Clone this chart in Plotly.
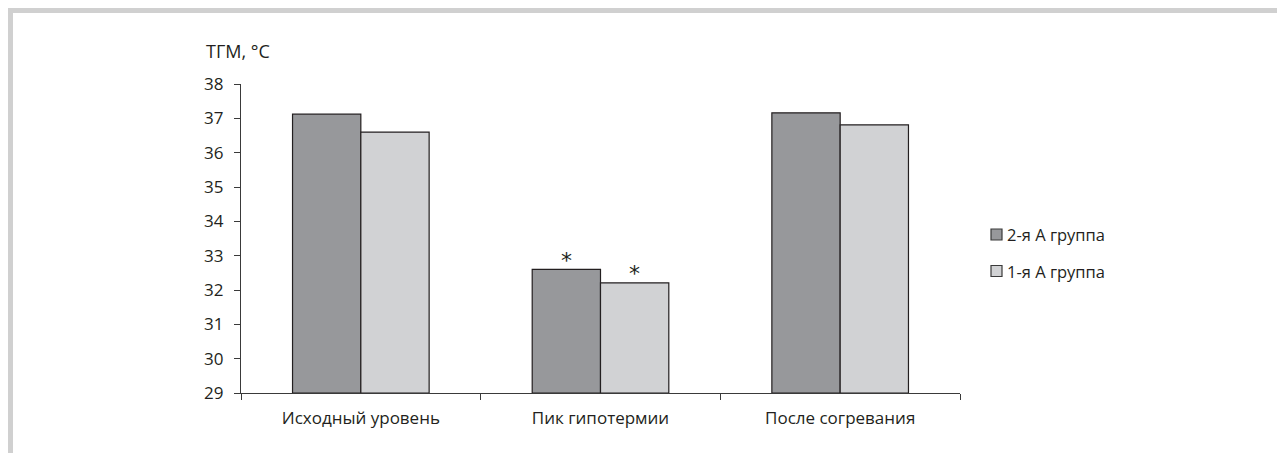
import plotly.graph_objects as go

categories = ["Исходный уровень", "Пик гипотермии", "После согревания"]
group2_values = [37.12, 32.60, 37.16]
group1_values = [36.60, 32.21, 36.81]
series_names = ["2-я А группа", "1-я А группа"]
series_colors = ["#97989b", "#d1d2d4"]
significance2 = ["", "*", ""]
significance1 = ["", "*", ""]

OFF = 8  # browser body margin
W, H = 1285 - OFF, 453 - OFF
PL, PR, PT, PB = 241, 960, 84, 393
ML, MR, MT, MB = PL - OFF, W - (PR - OFF), PT - OFF, H - (PB - OFF)
pw, ph = PR - PL, PB - PT
BARGAP = 0.43

def px_x(p):
    return (p - PL) / pw

def px_y(p):
    return (PB - p) / ph

FONT = "Open Sans"
TXT = "#231f20"
AX = "#3a3a3a"

fig = go.Figure()
for vals, name, col in [(group2_values, series_names[0], series_colors[0]),
                        (group1_values, series_names[1], series_colors[1])]:
    fig.add_trace(go.Bar(
        x=categories, y=[v - 29 for v in vals], base=29, name=name,
        marker=dict(color=col, line=dict(color="#231f20", width=1.2)),
        showlegend=False,
    ))

annotations = [dict(text="ТГМ, °С", xref="paper", yref="paper", x=px_x(204),
                    y=px_y(51), xanchor="left", yanchor="middle", showarrow=False,
                    font=dict(size=18, color=TXT))]
# significance marks above bars
half = (1 - BARGAP) / 4
for k, (vals, sig) in enumerate([(group2_values, significance2), (group1_values, significance1)]):
    for i, (v, s) in enumerate(zip(vals, sig)):
        if s:
            annotations.append(dict(text=s, xref="x", yref="y", x=i + (2 * k - 1) * half, y=v,
                                    xanchor="center", yanchor="middle", yshift=9, showarrow=False,
                                    font=dict(size=22, color=TXT, family="DejaVu Sans")))

shapes = [
    dict(type="rect", xref="paper", yref="paper", x0=px_x(8), x1=px_x(1300),
         y0=px_y(8), y1=px_y(13), fillcolor="#d0d0d0", line=dict(width=0), layer="below"),
    dict(type="rect", xref="paper", yref="paper", x0=px_x(8), x1=px_x(13),
         y0=px_y(8), y1=px_y(470), fillcolor="#d0d0d0", line=dict(width=0), layer="below"),
]
leg_y = [234.5, 271]
for name, col, cy in zip(series_names, series_colors, leg_y):
    shapes.append(dict(type="rect", xref="paper", yref="paper",
                       x0=px_x(991), x1=px_x(1002), y0=px_y(cy - 5.5), y1=px_y(cy + 5.5),
                       fillcolor=col, line=dict(color="#3a3a3a", width=1.2)))
    annotations.append(dict(text=name, xref="paper", yref="paper", x=px_x(1005),
                            y=px_y(cy), xanchor="left", yanchor="middle", showarrow=False,
                            font=dict(size=16.5, color=TXT)))

fig.update_layout(
    width=W, height=H,
    margin=dict(l=ML, r=MR, t=MT, b=MB),
    paper_bgcolor="white", plot_bgcolor="white",
    barmode="group", bargap=BARGAP, bargroupgap=0,
    font=dict(family=FONT, size=17, color=TXT),
    showlegend=False,
    xaxis=dict(showline=True, linecolor=AX, linewidth=1.2, ticks="outside",
               tickson="boundaries", ticklen=6, tickcolor=AX, tickwidth=1.2,
               showgrid=False, tickfont=dict(size=17), ticklabelstandoff=9),
    yaxis=dict(range=[29, 38], dtick=1, tick0=29, showline=True, linecolor=AX,
               linewidth=1.2, ticks="outside", ticklen=6, tickcolor=AX, tickwidth=1.2,
               showgrid=False, zeroline=False, tickfont=dict(size=17), ticklabelstandoff=7),
    annotations=annotations,
    shapes=shapes,
)

fig.write_html("out.html")
